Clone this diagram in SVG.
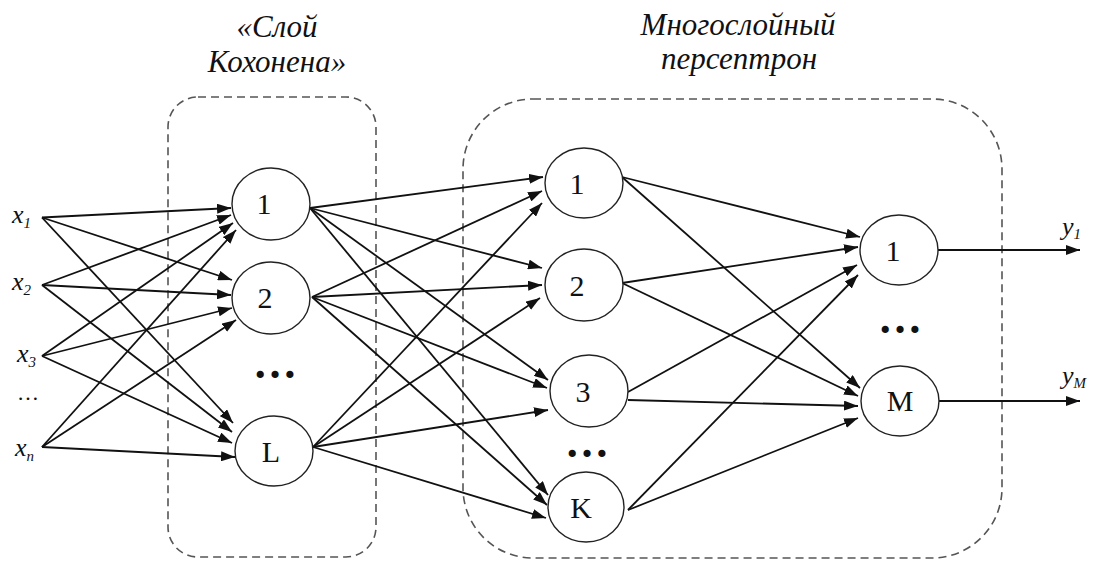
<svg xmlns="http://www.w3.org/2000/svg" width="1093" height="561" viewBox="0 0 1093 561">
<style>
.box{fill:none;stroke:#555;stroke-width:1.6;stroke-dasharray:8 5}
.node{fill:#fff;stroke:#222;stroke-width:1.4}
.lbl{font-family:"Liberation Serif",serif;font-size:30px;fill:#111;text-anchor:middle}
.ttl{font-family:"Liberation Serif",serif;font-size:31px;font-style:italic;fill:#111;text-anchor:middle}
.io{font-family:"Liberation Serif",serif;font-size:26px;font-style:italic;fill:#111}
.sub{font-size:15px}
.dots{font-family:"Liberation Serif",serif;font-size:44px;font-weight:bold;fill:#111;text-anchor:middle}
.c line{stroke:#111;stroke-width:1.8;marker-end:url(#ah)}
</style>
<defs>
<marker id="ah" markerUnits="userSpaceOnUse" markerWidth="14" markerHeight="10" viewBox="0 0 14 10" refX="14" refY="5" orient="auto">
<path d="M0,0 L14,5 L0,10 z" fill="#111"/>
</marker>
</defs>
<rect fill="#fff" x="0" y="0" width="1093" height="561"/>
<g id="titles">
<text class="ttl" x="277" y="37">«Слой</text>
<text class="ttl" x="277" y="72">Кохонена»</text>
<text class="ttl" x="738" y="35">Многослойный</text>
<text class="ttl" x="739" y="69">персептрон</text>
</g>
<g id="kohonen-layer"><rect class="box" x="168" y="97" width="208" height="460" rx="30"/></g>
<g id="perceptron"><rect class="box" x="463" y="99" width="539" height="459" rx="70"/></g>
<g id="connectors" class="c">
<line x1="42" y1="217.5" x2="231" y2="208"/>
<line x1="42" y1="285" x2="231" y2="215"/>
<line x1="42" y1="356" x2="233" y2="223"/>
<line x1="42" y1="447" x2="236" y2="230"/>
<line x1="42" y1="217.5" x2="232" y2="280"/>
<line x1="42" y1="285" x2="231" y2="295"/>
<line x1="42" y1="356" x2="232" y2="308"/>
<line x1="42" y1="447" x2="236" y2="320"/>
<line x1="42" y1="217.5" x2="233" y2="423"/>
<line x1="42" y1="285" x2="232" y2="432"/>
<line x1="42" y1="356" x2="232" y2="443"/>
<line x1="42" y1="447" x2="235" y2="457"/>
<line x1="310" y1="208" x2="543" y2="177"/>
<line x1="312" y1="297" x2="542" y2="191"/>
<line x1="313" y1="447" x2="542" y2="203"/>
<line x1="310" y1="208" x2="542" y2="268"/>
<line x1="312" y1="297" x2="542" y2="285"/>
<line x1="313" y1="447" x2="540" y2="298"/>
<line x1="310" y1="208" x2="548" y2="380"/>
<line x1="312" y1="297" x2="547" y2="388"/>
<line x1="313" y1="447" x2="548" y2="410"/>
<line x1="310" y1="208" x2="548" y2="495"/>
<line x1="312" y1="297" x2="547" y2="505"/>
<line x1="313" y1="447" x2="546" y2="518"/>
<line x1="622" y1="177" x2="860" y2="237"/>
<line x1="622" y1="283" x2="858" y2="247"/>
<line x1="628" y1="392" x2="857" y2="265"/>
<line x1="628" y1="510" x2="858" y2="275"/>
<line x1="622" y1="177" x2="860" y2="388"/>
<line x1="622" y1="283" x2="858" y2="396"/>
<line x1="628" y1="400" x2="858" y2="406"/>
<line x1="628" y1="510" x2="858" y2="418"/>
<line x1="938" y1="250" x2="1080" y2="250"/>
<line x1="939" y1="401" x2="1080" y2="401"/>
</g>
<g id="x1"><text class="io" x="12" y="223">x<tspan class="sub" dy="5">1</tspan></text></g>
<g id="x2"><text class="io" x="12" y="290">x<tspan class="sub" dy="5">2</tspan></text></g>
<g id="x3"><text class="io" x="17" y="362">x<tspan class="sub" dy="5">3</tspan></text></g>
<g id="xdots"><text class="io" x="17" y="400" style="font-style:normal;font-size:22px">…</text></g>
<g id="xn"><text class="io" x="15" y="456">x<tspan class="sub" dy="5">n</tspan></text></g>
<g id="k1"><ellipse class="node" cx="271" cy="204" rx="39" ry="36"/><text class="lbl" x="264" y="214">1</text></g>
<g id="k2"><ellipse class="node" cx="271" cy="298" rx="39" ry="36"/><text class="lbl" x="265" y="308">2</text></g>
<g id="kdots"><text class="dots" x="275" y="378">…</text></g>
<g id="kL"><ellipse class="node" cx="274" cy="451" rx="39" ry="35"/><text class="lbl" x="271" y="462">L</text></g>
<g id="h1"><ellipse class="node" cx="584" cy="183" rx="39" ry="35"/><text class="lbl" x="577" y="194">1</text></g>
<g id="h2"><ellipse class="node" cx="584" cy="285" rx="39" ry="36"/><text class="lbl" x="577" y="296">2</text></g>
<g id="h3"><ellipse class="node" cx="589" cy="391" rx="39" ry="36"/><text class="lbl" x="583" y="402">3</text></g>
<g id="hdots"><text class="dots" x="587" y="457">…</text></g>
<g id="hK"><ellipse class="node" cx="586" cy="507" rx="38" ry="35"/><text class="lbl" x="581" y="518">K</text></g>
<g id="o1"><ellipse class="node" cx="899" cy="250" rx="39" ry="35"/><text class="lbl" x="893" y="261">1</text></g>
<g id="odots"><text class="dots" x="900" y="333">…</text></g>
<g id="oM"><ellipse class="node" cx="900" cy="401" rx="39" ry="35"/><text class="lbl" x="900" y="411">M</text></g>
<g id="y1"><text class="io" x="1062" y="235">y<tspan class="sub" dy="4">1</tspan></text></g>
<g id="yM"><text class="io" x="1062" y="384">y<tspan class="sub" dy="4">M</tspan></text></g>
</svg>
